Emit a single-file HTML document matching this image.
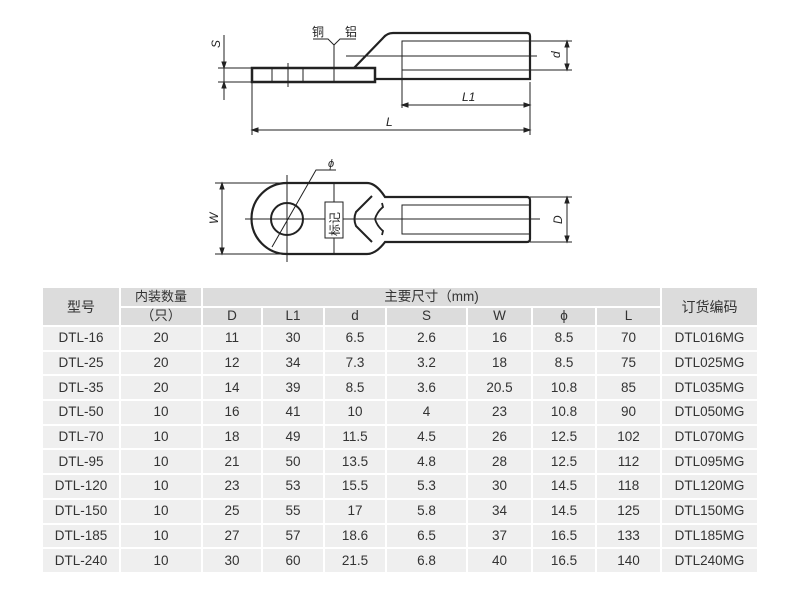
<!DOCTYPE html>
<html><head><meta charset="utf-8"><style>
body{margin:0;width:800px;height:590px;background:#fff;position:relative;overflow:hidden;font-family:"Liberation Sans","Noto Sans CJK SC",sans-serif;}
svg{position:absolute;left:0;top:0}
table{position:absolute;left:41px;top:286px;width:718px;border-collapse:collapse;table-layout:fixed;color:#333;font-size:13.5px}
td{border:2px solid #fff;background:#efefef;text-align:center;height:22.7px;padding:0;line-height:14px}
tr.h td{background:#dcdcdc;height:17.5px}
</style></head><body>
<svg width="800" height="290" viewBox="0 0 800 290" fill="none" stroke="#222" stroke-width="1">
<rect x="252" y="68" width="123" height="14" stroke-width="2.5"/>
<line x1="272" y1="68" x2="272" y2="82"/><line x1="288" y1="63" x2="288" y2="87"/><line x1="303" y1="68" x2="303" y2="82"/><line x1="334" y1="68" x2="334" y2="82"/>
<path d="M354 68 L383 38 Q387 33 393 33 L527 33 Q530 33 530 36 L530 79 L375 79" stroke-width="2.2"/>
<rect x="402" y="41" width="128" height="29"/>
<line x1="346" y1="56" x2="537" y2="56"/>
<line x1="530" y1="41" x2="572" y2="41"/><line x1="530" y1="70" x2="572" y2="70"/>
<line x1="567" y1="41" x2="567" y2="70"/>
<path d="M567 41 l-2 6 h4z M567 70 l-2 -6 h4z" fill="#222"/>
<line x1="402" y1="70" x2="402" y2="108"/><line x1="530" y1="82" x2="530" y2="135"/><line x1="252" y1="82" x2="252" y2="135"/>
<line x1="402" y1="105" x2="530" y2="105"/><path d="M402 105 l6 -2 v4z M530 105 l-6 -2 v4z" fill="#222"/>
<line x1="252" y1="130" x2="530" y2="130"/><path d="M252 130 l6 -2 v4z M530 130 l-6 -2 v4z" fill="#222"/>
<line x1="218" y1="68" x2="252" y2="68"/><line x1="218" y1="82" x2="252" y2="82"/>
<line x1="224" y1="35" x2="224" y2="100"/><path d="M224 68 l-2 -6 h4z M224 82 l-2 6 h4z" fill="#222"/>
<path d="M334 68 V45 L328 39 H313 M334 45 L340 39 H356"/>
<path d="M367 183 L287 183 A35.5 35.5 0 0 0 287 254 L367 254 Q376 254 385 242 L527 242 Q530 242 530 239 L530 200 Q530 197 527 197 L385 197 Q376 183 367 183" stroke-width="2.2"/>
<circle cx="287" cy="219" r="16" stroke-width="2"/>
<path d="M372 196 L356 212 Q353 219 356 226 L372 242" stroke-width="2"/>
<path d="M382 203 L383 207 Q377 212 375 219 Q377 226 383 231 L382 235" stroke-width="1.8"/>
<rect x="402" y="205" width="128" height="29"/>
<line x1="245" y1="219" x2="540" y2="219"/>
<line x1="287" y1="175" x2="287" y2="262"/><line x1="334" y1="183" x2="334" y2="254"/>
<rect x="325" y="202" width="18" height="36" fill="#fff"/>
<line x1="215" y1="183" x2="287" y2="183"/><line x1="215" y1="254" x2="287" y2="254"/>
<line x1="222" y1="183" x2="222" y2="254"/><path d="M222 183 l-2 6 h4z M222 254 l-2 -6 h4z" fill="#222"/>
<line x1="530" y1="197" x2="572" y2="197"/><line x1="530" y1="242" x2="572" y2="242"/>
<line x1="567" y1="197" x2="567" y2="242"/><path d="M567 197 l-2 6 h4z M567 242 l-2 -6 h4z" fill="#222"/>
<path d="M272 247 L316 170 H336"/>
<g fill="#222" stroke="none" font-family="Liberation Sans,sans-serif" font-style="italic" font-size="12">
<text x="462" y="101">L1</text><text x="386" y="126">L</text>
<text x="0" y="0" transform="translate(560 58) rotate(-90)">d</text>
<text x="0" y="0" transform="translate(220 48) rotate(-90)">S</text>
<text x="0" y="0" transform="translate(218 224) rotate(-90)">W</text>
<text x="0" y="0" transform="translate(562 224) rotate(-90)">D</text>
<text x="328" y="167" font-size="11">ϕ</text>
<text x="312" y="36" font-style="normal" font-size="12" font-family="Noto Sans CJK SC,sans-serif">铜</text>
<text x="345" y="36" font-style="normal" font-size="12" font-family="Noto Sans CJK SC,sans-serif">铝</text>
<text x="0" y="0" transform="translate(339 236) rotate(-90)" font-style="normal" font-size="12" font-family="Noto Sans CJK SC,sans-serif">标记</text>
</g>
</svg>
<table>
<colgroup><col style="width:78px"><col style="width:82px"><col style="width:60px"><col style="width:62px"><col style="width:62px"><col style="width:81px"><col style="width:65px"><col style="width:64px"><col style="width:65px"><col></colgroup>
<tr class="h"><td rowspan="2" style="font-size:14px">型号</td><td style="font-size:13px">内装数量</td><td colspan="7">主要尺寸（mm)</td><td rowspan="2" style="font-size:14px">订货编码</td></tr>
<tr class="h"><td>（只）</td><td>D</td><td>L1</td><td>d</td><td>S</td><td>W</td><td>ϕ</td><td>L</td></tr>
<tr><td>DTL-16</td><td>20</td><td>11</td><td>30</td><td>6.5</td><td>2.6</td><td>16</td><td>8.5</td><td>70</td><td>DTL016MG</td></tr>
<tr><td>DTL-25</td><td>20</td><td>12</td><td>34</td><td>7.3</td><td>3.2</td><td>18</td><td>8.5</td><td>75</td><td>DTL025MG</td></tr>
<tr><td>DTL-35</td><td>20</td><td>14</td><td>39</td><td>8.5</td><td>3.6</td><td>20.5</td><td>10.8</td><td>85</td><td>DTL035MG</td></tr>
<tr><td>DTL-50</td><td>10</td><td>16</td><td>41</td><td>10</td><td>4</td><td>23</td><td>10.8</td><td>90</td><td>DTL050MG</td></tr>
<tr><td>DTL-70</td><td>10</td><td>18</td><td>49</td><td>11.5</td><td>4.5</td><td>26</td><td>12.5</td><td>102</td><td>DTL070MG</td></tr>
<tr><td>DTL-95</td><td>10</td><td>21</td><td>50</td><td>13.5</td><td>4.8</td><td>28</td><td>12.5</td><td>112</td><td>DTL095MG</td></tr>
<tr><td>DTL-120</td><td>10</td><td>23</td><td>53</td><td>15.5</td><td>5.3</td><td>30</td><td>14.5</td><td>118</td><td>DTL120MG</td></tr>
<tr><td>DTL-150</td><td>10</td><td>25</td><td>55</td><td>17</td><td>5.8</td><td>34</td><td>14.5</td><td>125</td><td>DTL150MG</td></tr>
<tr><td>DTL-185</td><td>10</td><td>27</td><td>57</td><td>18.6</td><td>6.5</td><td>37</td><td>16.5</td><td>133</td><td>DTL185MG</td></tr>
<tr><td>DTL-240</td><td>10</td><td>30</td><td>60</td><td>21.5</td><td>6.8</td><td>40</td><td>16.5</td><td>140</td><td>DTL240MG</td></tr>
</table>
</body></html>
